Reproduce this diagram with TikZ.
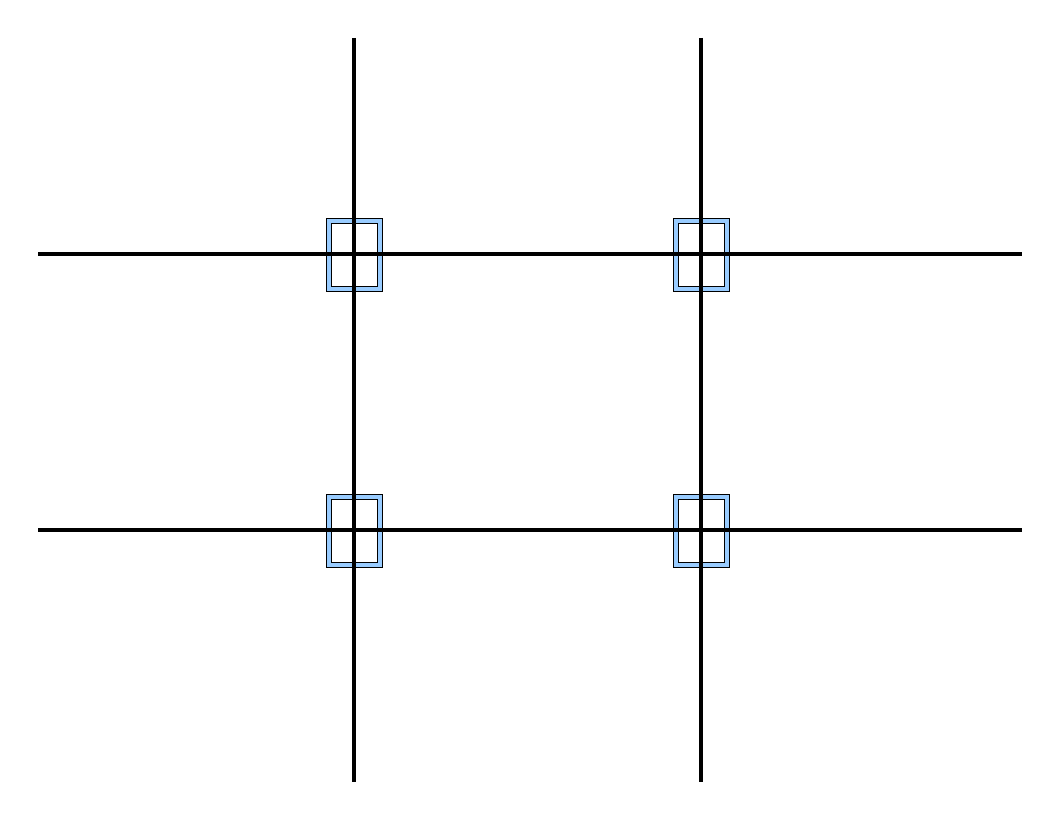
\documentclass[tikz,border=0pt]{standalone}
\definecolor{frameblue}{RGB}{153,204,255}
\begin{document}
\begin{tikzpicture}[x=1pt,y=-1pt,
  outerframe/.style={draw=black,line width=1pt,fill=frameblue,minimum width=56pt,minimum height=73pt,inner sep=0pt,outer sep=0pt},
  innerframe/.style={draw=black,line width=1pt,fill=white,minimum width=46pt,minimum height=63pt,inner sep=0pt,outer sep=0pt},
  gridline/.style={line width=4pt,black}]
\useasboundingbox[fill=white] (0,0) rectangle (1056,816);
% frames
\foreach \n/\x/\y in {a/354/254.5,b/701/254.5,c/354/530.5,d/701/530.5}{
  \node[outerframe] (\n o) at (\x,\y) {};
  \node[innerframe] (\n i) at (\x,\y) {};
}
% line endpoints
\coordinate (h1l) at (38,254);
\coordinate (h1r) at (1022,254);
\coordinate (h2l) at (38,530);
\coordinate (h2r) at (1022,530);
\coordinate (v1t) at (354,38);
\coordinate (v1b) at (354,782);
\coordinate (v2t) at (701,38);
\coordinate (v2b) at (701,782);
\draw[gridline] (h1l) -- (h1r);
\draw[gridline] (h2l) -- (h2r);
\draw[gridline] (v1t) -- (v1b);
\draw[gridline] (v2t) -- (v2b);
\end{tikzpicture}
\end{document}
